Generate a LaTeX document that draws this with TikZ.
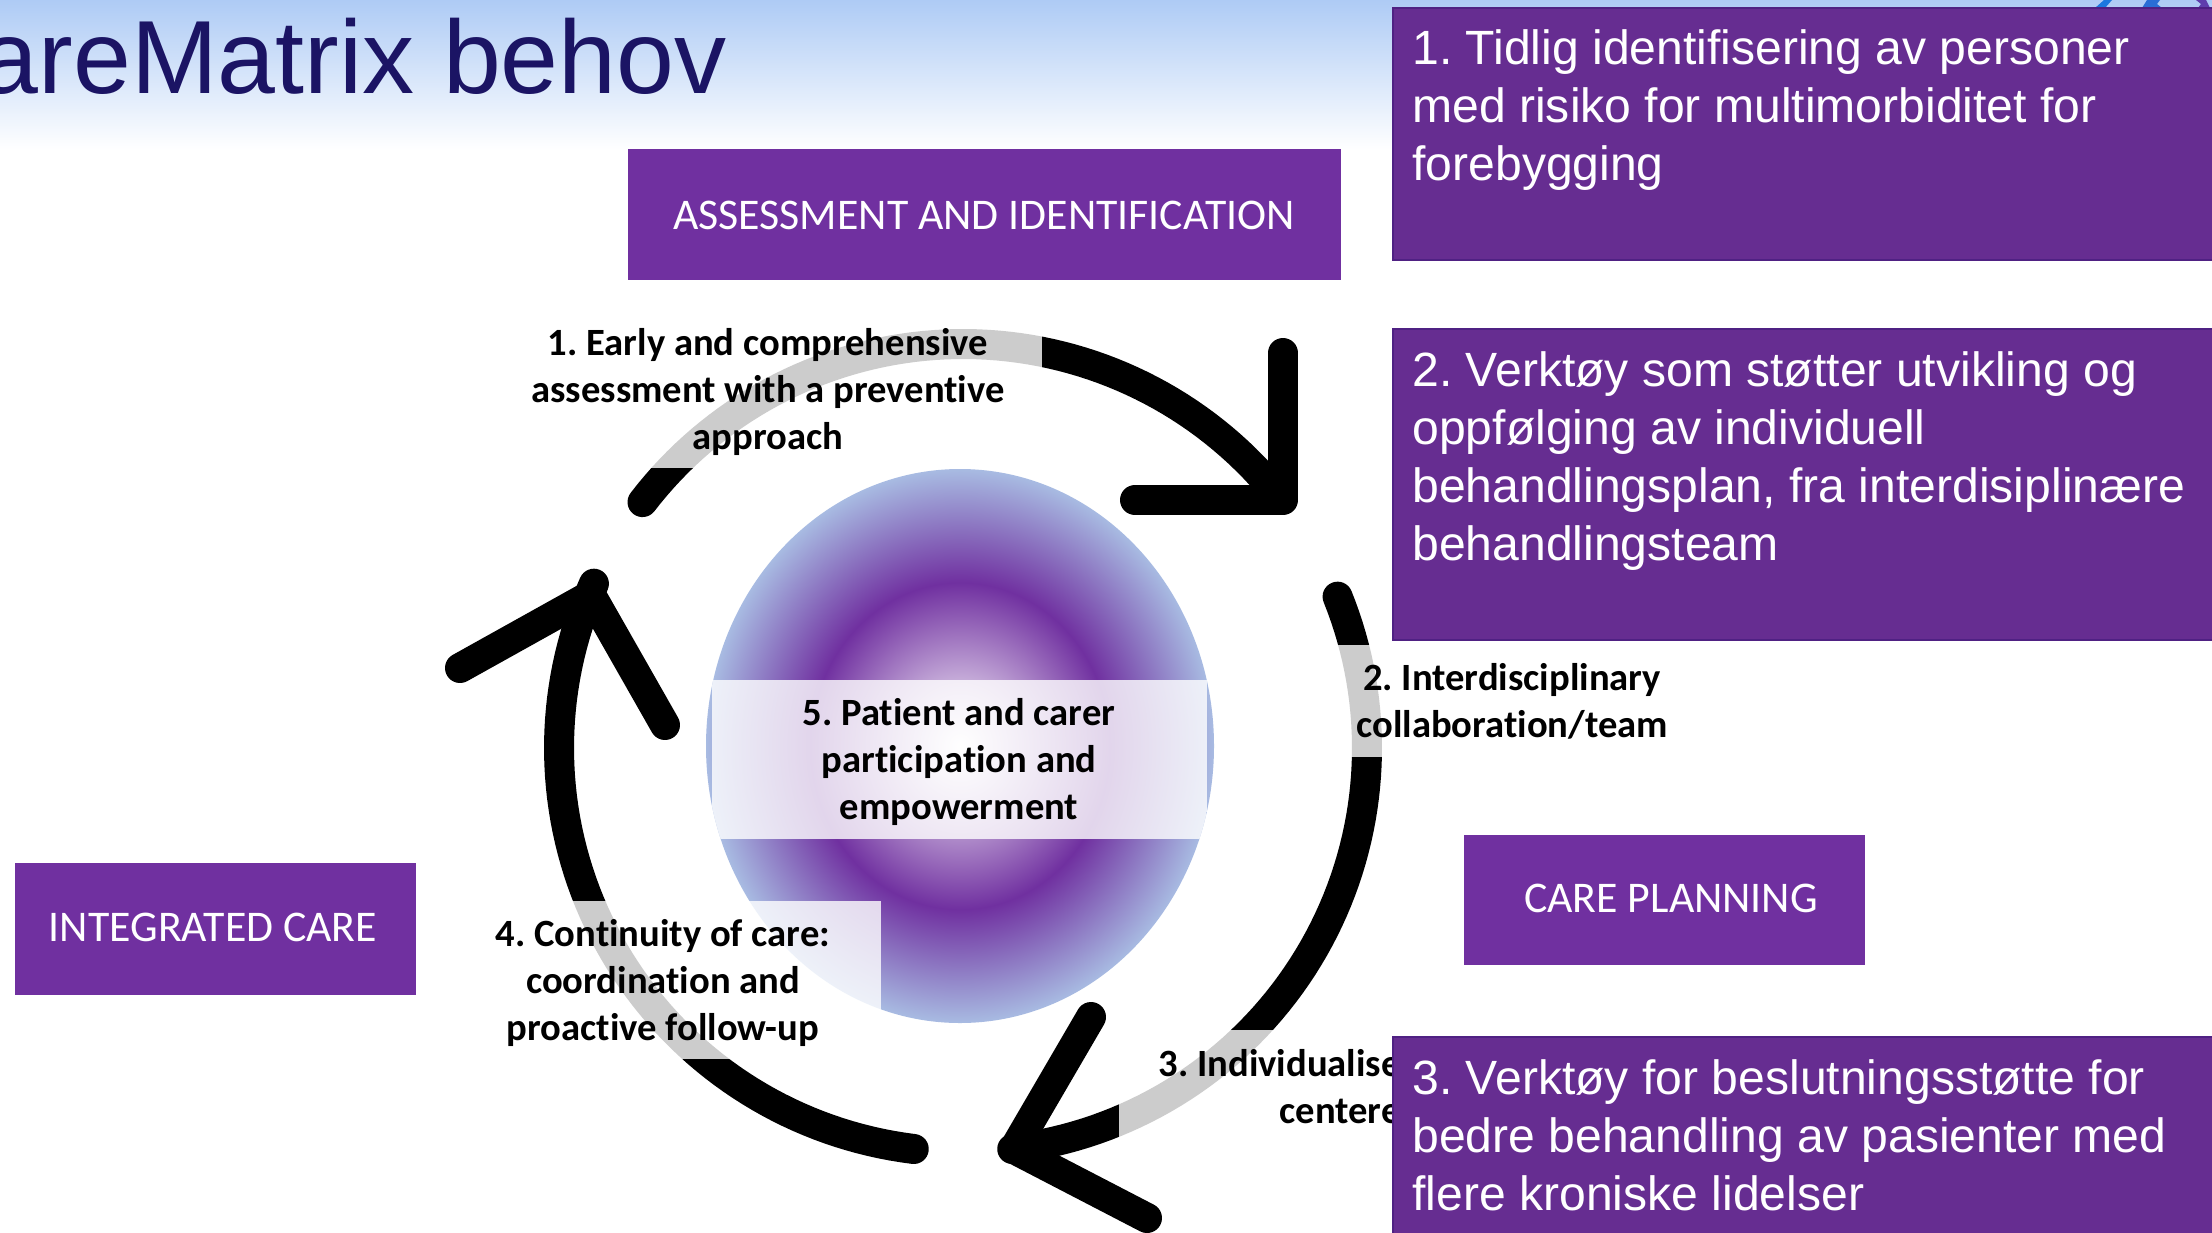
\documentclass[tikz,border=0pt]{standalone}
\usepackage{fontspec}
\setmainfont{Liberation Sans}
\newfontfamily\carlito[Ligatures=CommonOff]{Carlito}
\definecolor{lilac}{HTML}{7030A0}
\definecolor{deeppurple}{HTML}{662D91}
\definecolor{deepedge}{HTML}{4F2183}
\definecolor{navytitle}{HTML}{1B1464}
\definecolor{skytop}{HTML}{AECBF5}
\definecolor{rimblue}{HTML}{A8BBE2}
\definecolor{logoblue}{HTML}{1C78E0}
\pgfdeclareradialshading{orb}{\pgfpoint{0bp}{0bp}}{color(0bp)=(white); color(14.75bp)=(lilac); color(25bp)=(rimblue); color(100bp)=(rimblue)}
\tikzset{
  x=0.5pt,y=-0.5pt,
  tagbox/.style={text=white,inner sep=0pt,font=\carlito\frenchspacing\fontsize{21.9}{26}\selectfont},
  notebox/.style={fill=deeppurple,draw=deepedge,line width=1pt},
  notetext/.style={text=white,inner sep=0pt,anchor=north west,align=left,font=\frenchspacing\fontsize{24.05}{29}\selectfont},
  veil/.style={fill=white,fill opacity=0.8},
  cycle label/.style={inner sep=0pt,align=center,text=black,font=\carlito\bfseries\frenchspacing\fontsize{19.3}{23.5}\selectfont},
  sweep/.style={line width=15pt,line cap=round,line join=round,black},
}
\newcommand{\ringarc}[2]{plot[domain=#1:#2,samples=70] ({963+404*cos(\x)},{748-404*sin(\x)})}
\begin{document}
\begin{tikzpicture}
\useasboundingbox (0,0) rectangle (2212,1232);
\fill[white] (0,0) rectangle (2212,1232);
\shade[top color=skytop,bottom color=white] (0,0) rectangle (2212,150);
\node[anchor=base east,inner sep=0pt,text=navytitle,font=\fontsize{52}{60}\selectfont] (title) at (727,93) {areMatrix behov};
% logo remnants
\fill[logoblue] (2095,8) -- (2104,0) -- (2112,0) -- (2105,8) -- cycle;
\fill[logoblue!85!lilac] (2142,8) -- (2147,0) -- (2160,0) -- (2157,4) -- (2162,8) -- cycle;
\fill[lilac!80!logoblue] (2196,0) -- (2206,0) -- (2210,8) -- (2198,8) -- (2201,4) -- cycle;
% arrows
\coordinate (tipA) at (1283,500);
\coordinate (armA1) at (1283,353);
\coordinate (armA2) at (1135,500);
\coordinate (tipB) at (1014,1149);
\coordinate (armB1) at (1091,1017);
\coordinate (armB2) at (1147,1218);
\coordinate (tipC) at (591,595);
\coordinate (armC1) at (460,668);
\coordinate (armC2) at (665,725);
\draw[sweep] \ringarc{142.5}{38};
\draw[sweep] (armA1) -- (tipA) -- (armA2);
\draw[sweep] \ringarc{22}{-83};
\draw[sweep] (armB1) -- (tipB) -- (armB2);
\draw[sweep] \ringarc{-97}{-204};
\draw[sweep] (armC1) -- (tipC) -- (armC2);
% orb
\shade[shading=orb] (960,746) ellipse [x radius=254,y radius=277];
\begin{scope}
\clip (960,746) ellipse [x radius=254,y radius=277];
\fill[veil] (712,680) rectangle (1207,839);
\end{scope}
\fill[veil] (445,901) rectangle (881,1059);
\fill[veil] (492,322) rectangle (1042,468);
\fill[veil] (1335,645) rectangle (1690,757);
\fill[veil] (1119,1030) rectangle (1392,1140);
% labels
\node[cycle label] (lab1) at (768,392) {1. Early and comprehensive\\assessment with a preventive\\approach};
\node[cycle label] (lab2) at (1512,701) {2. Interdisciplinary\\collaboration/team};
\node[cycle label,anchor=east,align=right] (lab3) at (1401,1087) {3. Individualise\\centere};
\node[cycle label] (lab4) at (663,983) {4. Continuity of care:\\coordination and\\proactive follow-up};
\node[cycle label] (lab5) at (959,762) {5. Patient and carer\\participation and\\empowerment};
% tag boxes
\fill[lilac] (628,149) rectangle (1341,280);
\fill[lilac] (15,863) rectangle (416,995);
\fill[lilac] (1464,835) rectangle (1865,965);
\node[tagbox] (tagA) at (984,215) {ASSESSMENT AND IDENTIFICATION};
\node[tagbox] (tagB) at (213,927) {INTEGRATED CARE};
\node[tagbox] (tagC) at (1671,898) {CARE PLANNING};
% note boxes
\draw[notebox] (1393,8) rectangle (2214,260);
\draw[notebox] (1393,329) rectangle (2214,640);
\draw[notebox] (1393,1037) rectangle (2214,1236);
\node[notetext] (noteA) at (1412,29) {1. Tidlig identifisering av personer\\med risiko for multimorbiditet for\\forebygging};
\node[notetext] (noteB) at (1412,351) {2. Verktøy som støtter utvikling og\\oppfølging av individuell\\behandlingsplan, fra interdisiplinære\\behandlingsteam};
\node[notetext] (noteC) at (1412,1059) {3. Verktøy for beslutningsstøtte for\\bedre behandling av pasienter med\\flere kroniske lidelser};
\end{tikzpicture}
\end{document}
